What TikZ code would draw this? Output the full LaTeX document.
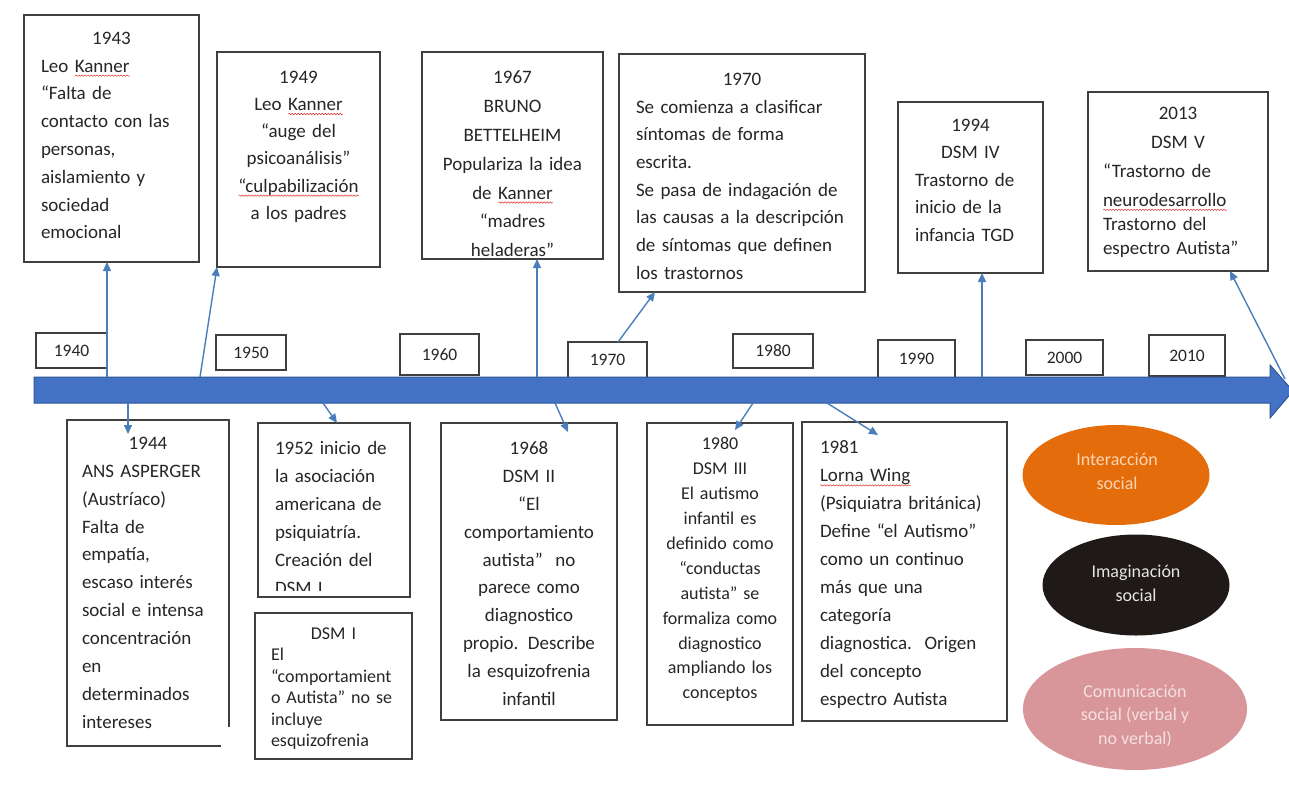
\documentclass[tikz,border=0pt]{standalone}
\usepackage{fontspec}
\setmainfont{Carlito}
\usetikzlibrary{shapes.geometric,arrows.meta,calc,decorations.pathmorphing}
\definecolor{boxc}{HTML}{3F3F3F}
\definecolor{textc}{HTML}{262626}
\definecolor{connc}{HTML}{4A7EBB}
\definecolor{tlfill}{HTML}{4472C4}
\definecolor{tlborder}{HTML}{2F5597}
\definecolor{squig}{HTML}{E03030}
\definecolor{orangeE}{HTML}{E46C0A}
\definecolor{orangeT}{HTML}{FCD5B4}
\definecolor{blackE}{HTML}{1F1A17}
\definecolor{blackT}{HTML}{E6E6E6}
\definecolor{pinkE}{HTML}{D9969A}
\definecolor{pinkT}{HTML}{F4E0DF}
\newlength\sqlen
\newcommand\sq[1]{\leavevmode\settowidth\sqlen{#1}\rlap{\tikz[baseline=0pt,x=1pt,y=1pt]\draw[squig,line width=0.5pt,decorate,decoration={snake,amplitude=0.7pt,segment length=3pt}] (0pt,-3.5pt) -- (\sqlen,-3.5pt);}#1}
\newcommand\ctr[1]{\makebox[\linewidth]{#1}}
\begin{document}
\begin{tikzpicture}[x=1pt,y=-1pt,
  frame/.style={draw=boxc, line width=1.3pt, inner sep=0pt, outer sep=0pt, anchor=north west},
  txt/.style={inner sep=0pt, outer sep=0pt, text=textc, anchor=north west, align=left},
  ctxt/.style={inner sep=0pt, outer sep=0pt, text=textc, anchor=north, align=center},
  fs/.style={font=\fontsize{19}{#1}\selectfont},
  fsm/.style={font=\fontsize{18}{#1}\selectfont},
  yearbox/.style={frame, fill=white, font=\fontsize{17.5}{20}\selectfont, text=textc},
  conn/.style={draw=connc, line width=1.4pt, -{Triangle[length=9pt,width=8pt]}},
  oval/.style={ellipse, draw=none, inner sep=0pt},
  ovaltxt/.style={inner sep=0pt, align=center, font=\fontsize{18}{23.5}\selectfont}
]
\useasboundingbox (0,0) rectangle (1289,798);
\fill[white] (0,0) rectangle (1289,798);

% ---------- upper boxes ----------
\node[frame, minimum width=175pt, minimum height=247pt] (b1943) at (24,15) {};
\node[txt, fs=27.8, text width=141pt] (t1943) at (41,32)
 {\ctr{1943}\\ Leo \sq{Kanner}\\ “Falta de\\ contacto con las\\ personas,\\ aislamiento y\\ sociedad\\ emocional};

\node[frame, minimum width=163pt, minimum height=215pt] (b1949) at (217,52) {};
\node[ctxt, fs=27.2, text width=150pt] (t1949) at (298.5,71)
 {1949\\ Leo \sq{Kanner}\\ “auge del\\ psicoanálisis”\\ \sq{“culpabilización}\\ a los padres};

\node[frame, minimum width=181pt, minimum height=207pt] (b1967) at (422,52) {};
\node[ctxt, fs=28.8, text width=175pt] (t1967) at (512.5,71)
 {1967\\ BRUNO\\ BETTELHEIM\\ Populariza la idea\\ de \sq{Kanner}\\ “madres\\ heladeras”};

\node[frame, minimum width=246pt, minimum height=238pt] (b1970) at (619,54) {};
\node[txt, fs=27.7, text width=212pt] (t1970) at (636,73)
 {\ctr{1970}\\ Se comienza a clasificar\\ síntomas de forma\\ escrita.\\ Se pasa de indagación de\\ las causas a la descripción\\ de síntomas que definen\\ los trastornos};

\node[frame, minimum width=145pt, minimum height=171pt] (b1994) at (898,102) {};
\node[txt, fs=27.5, text width=111pt] (t1994) at (915,119)
 {\ctr{1994}\\ \ctr{DSM IV}\\ Trastorno de\\ inicio de la\\ infancia TGD};

\node[frame, minimum width=180pt, minimum height=179pt] (b2013) at (1088,92) {};
\node[txt, fs=29, text width=150pt] (t2013) at (1103,107)
 {\ctr{2013}\\ \ctr{DSM V}\\ “Trastorno de\\ \sq{neurodesarrollo}\\[-5pt] Trastorno del\\[-5pt] espectro Autista”};

% ---------- year boxes ----------
\node[yearbox, minimum width=71pt, minimum height=35pt] (y1940) at (36,333) {1940};
\node[yearbox, minimum width=70pt, minimum height=35pt] (y1950) at (216,335) {1950};
\node[yearbox, minimum width=79pt, minimum height=41pt] (y1960) at (400,334) {1960};
\node[yearbox, minimum width=79pt, minimum height=36pt] (y1970) at (568,342) {1970};
\node[yearbox, minimum width=80pt, minimum height=34pt] (y1980) at (733,334) {1980};
\node[yearbox, minimum width=77pt, minimum height=38pt] (y1990) at (878,340) {1990};
\node[yearbox, minimum width=77pt, minimum height=35pt] (y2000) at (1026,340) {2000};
\node[yearbox, minimum width=76pt, minimum height=41pt] (y2010) at (1149,335) {2010};

% ---------- timeline ----------
\filldraw[fill=tlfill, draw=tlborder, line width=1pt]
  (34,377) -- (1270,377) -- (1270,365) -- (1293,391) -- (1270,418) -- (1270,403) -- (34,403) -- cycle;

% ---------- lower boxes ----------
\node[frame, draw=none, minimum width=162pt, minimum height=326pt] (b1944) at (67,420) {};
\draw[draw=boxc, line width=1.3pt] ($(b1944.south east)+(0,-19)$) -- (b1944.north east) -- (b1944.north west) -- (b1944.south west) -- ($(b1944.south west)+(154,0)$);
\node[txt, fs=27.9, text width=132pt] (t1944) at (82,437)
 {\ctr{1944}\\ ANS ASPERGER\\ (Austríaco)\\ Falta de\\ empatía,\\ escaso interés\\ social e intensa\\ concentración\\ en\\ determinados\\ intereses};

\node[frame, minimum width=152pt, minimum height=174pt] (b1952) at (258,423) {};
\begin{scope}
\clip (258,423) rectangle (410,590);
\node[txt, fs=28, text width=130pt] (t1952) at (275,441)
 {1952 inicio de\\ la asociación\\ americana de\\ psiquiatría.\\ Creación del\\ DSM I};
\end{scope}

\node[frame, minimum width=157pt, minimum height=146pt] (bdsm1) at (255,613) {};
\node[txt, fsm=21.5, text width=125pt] (tdsm1) at (271,627.5)
 {\ctr{DSM I}\\ El\\ “comportamient\\ o Autista” no se\\ incluye\\ esquizofrenia};

\node[frame, minimum width=176pt, minimum height=297pt] (b1968) at (441,423) {};
\node[ctxt, fs=27.8, text width=170pt] (t1968) at (529,442)
 {1968\\ DSM II\\ “El\\ comportamiento\\ autista”\ \ no\\ parece como\\ diagnostico\\ propio. Describe\\ la esquizofrenia\\ infantil};

\node[frame, minimum width=146pt, minimum height=302pt] (b1980) at (647,423) {};
\node[ctxt, fsm=24.9, text width=140pt] (t1980) at (720,437.5)
 {1980\\ DSM III\\ El autismo\\ infantil es\\ definido\ como\\ “conductas\\ autista” se\\ formaliza como\\ diagnostico\\ ampliando los\\ conceptos};

\node[frame, minimum width=205pt, minimum height=299pt] (b1981) at (802,422) {};
\node[txt, fs=27.9, text width=182pt] (t1981) at (820,441)
 {1981\\ \sq{Lorna Wing}\\ (Psiquiatra británica)\\ Define “el Autismo”\\ como un continuo\\ más que una\\ categoría\\ diagnostica.\ \ Origen\\ del concepto\\ espectro Autista};

% ---------- ovals ----------
\node[oval, fill=orangeE, minimum width=187pt, minimum height=100pt] (e1) at (1116,475) {};
\node[ovaltxt, text=orangeT] (te1) at (1117,471.5) {Interacción\\ social};
\node[oval, fill=blackE, minimum width=187pt, minimum height=101pt] (e2) at (1136,585) {};
\node[ovaltxt, text=blackT] (te2) at (1136,583.5) {Imaginación\\ social};
\node[oval, fill=pinkE, minimum width=224pt, minimum height=122pt] (e3) at (1135,709) {};
\node[ovaltxt, text=pinkT] (te3) at (1135,716) {Comunicación\\ social (verbal y\\ no verbal)};

% ---------- connectors ----------
\coordinate (p43) at (107,377);
\draw[conn] (p43) -- (p43 |- b1943.south);
\coordinate (p49) at (200,377);
\draw[conn] (p49) -- (b1949.south west);
\coordinate (p67) at (537,377);
\draw[conn] (p67) -- (p67 |- b1967.south);
\draw[conn] ($(y1970.north west)+(50,0)$) -- ($(b1970.south west)+(36,0)$);
\coordinate (p94) at (982,377);
\draw[conn] (p94) -- (p94 |- b1994.south);
\coordinate (p13) at (1285,379);
\draw[conn] (p13) -- ($(b2013.south west)+(142,0)$);
\coordinate (p44) at (128,403);
\draw[conn] (p44) -- ($(p44 |- b1944.north)+(0,14)$);
\coordinate (p52) at (323,403);
\draw[conn] (p52) -- ($(b1952.north west)+(79,0)$);
\coordinate (p68) at (555,403);
\draw[conn] (p68) -- ($(b1968.north west)+(127,9)$);
\coordinate (p80) at (753,403);
\draw[conn] (p80) -- ($(b1980.north west)+(88,7)$);
\coordinate (p81) at (827,403);
\draw[conn] (p81) -- ($(b1981.north west)+(76,13)$);
\end{tikzpicture}
\end{document}
